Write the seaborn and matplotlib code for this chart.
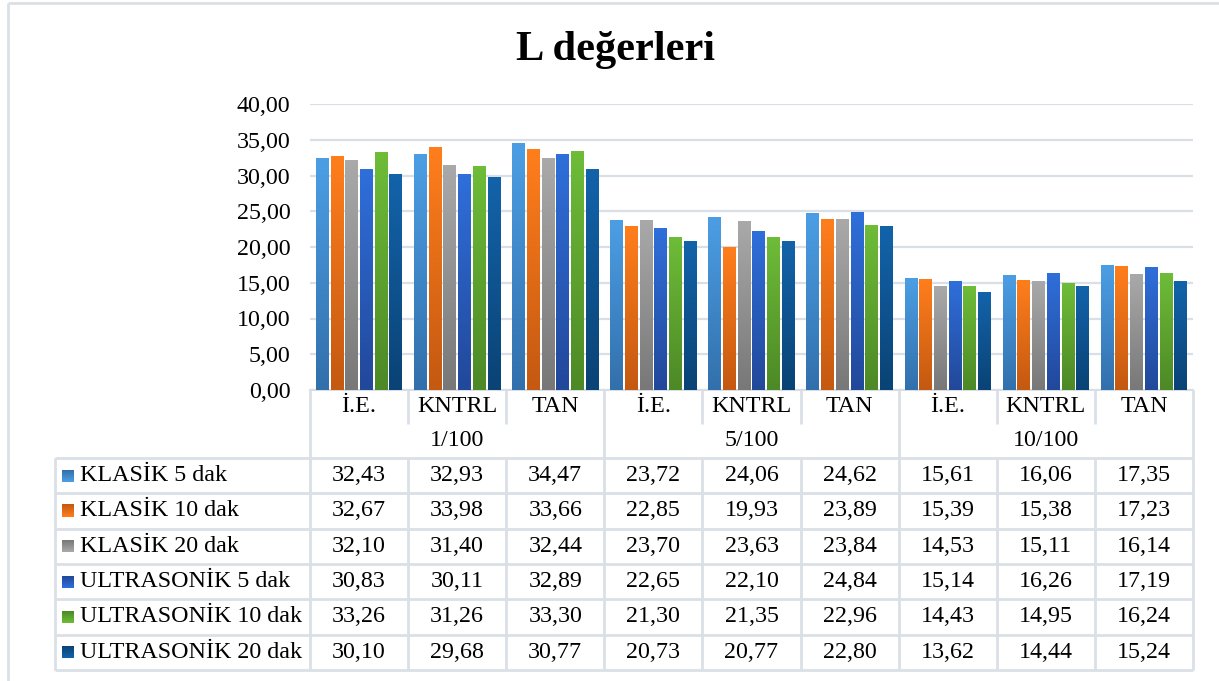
import numpy as np
import pandas as pd
import matplotlib
matplotlib.use("Agg")
import matplotlib.pyplot as plt
import seaborn as sns
from matplotlib.colors import LinearSegmentedColormap

# ---- data -------------------------------------------------------------
groups = ["1/100", "5/100", "10/100"]
categories = ["İ.E.", "KNTRL", "TAN"]
series_names = ["KLASİK 5 dak", "KLASİK 10 dak", "KLASİK 20 dak",
                "ULTRASONİK 5 dak", "ULTRASONİK 10 dak", "ULTRASONİK 20 dak"]

klasik_5 = [32.43, 32.93, 34.47, 23.72, 24.06, 24.62, 15.61, 16.06, 17.35]
klasik_10 = [32.67, 33.98, 33.66, 22.85, 19.93, 23.89, 15.39, 15.38, 17.23]
klasik_20 = [32.10, 31.40, 32.44, 23.70, 23.63, 23.84, 14.53, 15.11, 16.14]
ultrasonik_5 = [30.83, 30.11, 32.89, 22.65, 22.10, 24.84, 15.14, 16.26, 17.19]
ultrasonik_10 = [33.26, 31.26, 33.30, 21.30, 21.35, 22.96, 14.43, 14.95, 16.24]
ultrasonik_20 = [30.10, 29.68, 30.77, 20.73, 20.77, 22.80, 13.62, 14.44, 15.24]

series_values = [klasik_5, klasik_10, klasik_20,
                 ultrasonik_5, ultrasonik_10, ultrasonik_20]
y_ticks = [0, 5, 10, 15, 20, 25, 30, 35, 40]

# gradient colours per series (top, bottom)
grad_colors = [("#4C9EE4", "#3270AC"), ("#FF7E1C", "#C45911"),
               ("#A9A9A9", "#787878"), ("#2F6FDA", "#22489A"),
               ("#6EBC38", "#4D8926"), ("#1363AA", "#0A4375")]

# ---- long-form table for seaborn -------------------------------------
slots = [f"{g}|{c}" for g in groups for c in categories]
rows = []
for name, vals in zip(series_names, series_values):
    for slot, v in zip(slots, vals):
        rows.append({"slot": slot, "series": name, "value": v})
df = pd.DataFrame(rows)

W, H, DPI = 1219, 681, 100
FS = 17.3
plt.rcParams["font.family"] = ["Liberation Serif", "DejaVu Serif"]
fig = plt.figure(figsize=(W / DPI, H / DPI), dpi=DPI)

# plot area in pixel coordinates
px_left, px_right, px_top, px_base = 310, 1193, 104, 390
ax = fig.add_axes([px_left / W, 1 - px_base / H,
                   (px_right - px_left) / W, (px_base - px_top) / H])

palette = {n: c[0] for n, c in zip(series_names, grad_colors)}
sns.barplot(data=df, x="slot", y="value", hue="series", order=slots,
            hue_order=series_names, palette=palette, width=0.90, gap=0.13,
            ax=ax, legend=False, errorbar=None, saturation=1)

# vertical gradient fill for each bar
for cont, (top, bot) in zip(ax.containers, grad_colors):
    cmap = LinearSegmentedColormap.from_list("g", [bot, top])
    for p in cont.patches:
        x0, w, h = p.get_x(), p.get_width(), p.get_height()
        grad = np.linspace(1, 0, 64).reshape(-1, 1)
        ax.imshow(grad, cmap=cmap, extent=[x0, x0 + w, 0, h],
                  aspect="auto", zorder=3, interpolation="bicubic")
        p.set_alpha(0)

ax.set_xlim(-0.5, len(slots) - 0.5)
ax.set_ylim(0, 40)
ax.set_yticks(y_ticks)
ax.set_yticklabels([f"{t:.2f}".replace(".", ",") for t in y_ticks],
                   fontsize=FS)
ax.tick_params(axis="y", length=0, pad=14)
ax.set_xticks([])
ax.set_xlabel("")
ax.set_ylabel("")
for s in ["top", "right", "left"]:
    ax.spines[s].set_visible(False)
ax.spines["bottom"].set_color("#D9DDE4")
ax.spines["bottom"].set_linewidth(1.5)
ax.grid(axis="y", color="#DADEE5", linewidth=1.6)
ax.set_axisbelow(True)

# ---- overlay for title, data table and frame (pixel coordinates) -----
ov = fig.add_axes([0, 0, 1, 1], zorder=5)
ov.set_xlim(0, W)
ov.set_ylim(H, 0)
ov.axis("off")
ov.patch.set_alpha(0)

ov.text(616, 50, "L değerleri", ha="center", va="center",
        fontsize=30.5, fontweight="bold")

line_kw = dict(color="#DBE0E7", linewidth=2, solid_capstyle="butt")
# chart frame
ov.plot([8, 8], [3, H], **line_kw)
ov.plot([8, W], [3, 3], **line_kw)

col_w = (px_right - px_left) / len(slots)
col_x = [px_left + i * col_w for i in range(len(slots) + 1)]
row_top = 458
row_h = 35.3
n_rows = len(series_names)
table_bottom = row_top + n_rows * row_h
legend_left = 55

# column separators: header part and data part
for i, x in enumerate(col_x):
    if i % 3 == 0:
        ov.plot([x, x], [px_base, table_bottom], **line_kw)
    else:
        ov.plot([x, x], [px_base, 424], **line_kw)
        ov.plot([x, x], [row_top, table_bottom], **line_kw)
ov.plot([legend_left, legend_left], [row_top, table_bottom], **line_kw)
for r in range(n_rows + 1):
    y = row_top + r * row_h
    ov.plot([legend_left, px_right], [y, y], **line_kw)

# header labels
for i, slot in enumerate(slots):
    cx = (col_x[i] + col_x[i + 1]) / 2
    ov.text(cx, 407, slot.split("|")[1], ha="center", va="center",
            fontsize=FS)
for g, name in enumerate(groups):
    cx = (col_x[3 * g] + col_x[3 * g + 3]) / 2
    ov.text(cx, 440, name, ha="center", va="center", fontsize=FS)

# data rows with legend keys
for r, (name, vals, (top, bot)) in enumerate(zip(series_names, series_values,
                                                   grad_colors)):
    cy = row_top + (r + 0.5) * row_h
    cmap = LinearSegmentedColormap.from_list("k", [bot, top])
    ov.imshow(np.linspace(0, 1, 16).reshape(-1, 1), cmap=cmap,
              extent=[62, 74, cy + 6, cy - 6], aspect="auto",
              interpolation="bicubic", zorder=6)
    ov.text(80, cy, name, ha="left", va="center", fontsize=FS)
    for i, v in enumerate(vals):
        cx = (col_x[i] + col_x[i + 1]) / 2
        ov.text(cx, cy, f"{v:.2f}".replace(".", ","), ha="center",
                va="center", fontsize=FS)
ov.set_xlim(0, W)
ov.set_ylim(H, 0)

fig.savefig("out.png", dpi=DPI, facecolor="white")
